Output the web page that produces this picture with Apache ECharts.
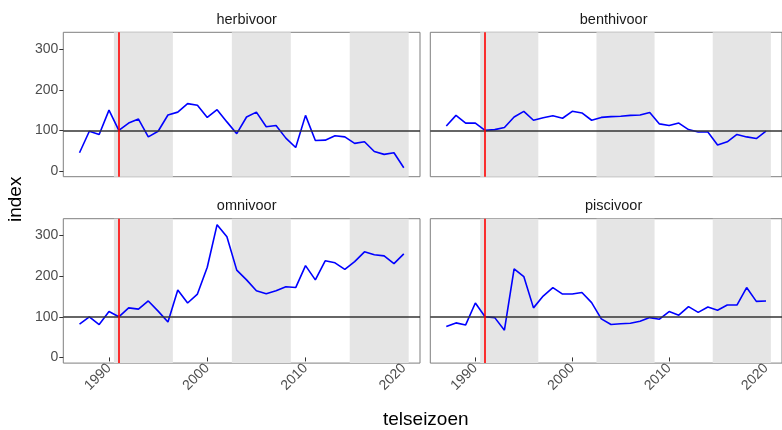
<!DOCTYPE html>
<html>
<head>
<meta charset="utf-8">
<script src="https://cdn.jsdelivr.net/npm/echarts@6/dist/echarts.min.js"></script>
<style>html,body{margin:0;padding:0;background:#fff}#c{width:782px;height:430px}</style>
</head>
<body>
<div id="c"></div>
<script>
const years = [1987,1988,1989,1990,1991,1992,1993,1994,1995,1996,1997,1998,1999,2000,2001,2002,2003,2004,2005,2006,2007,2008,2009,2010,2011,2012,2013,2014,2015,2016,2017,2018,2019,2020];
const herbivoor  = [45,98,90,150,100,118,128,84,98,138,145,166,162,132,151,121,92,133,145,109,112,81,58,137,75,76,87,84,68,72,48,41,45,8];
const benthivoor = [111,137,118,118,100,102,107,133,147,125,131,136,130,147,143,125,132,134,135,137,138,144,116,112,118,102,96,96,64,72,90,84,80,98];
const omnivoor   = [82,100,81,113,100,122,119,139,114,87,166,134,156,222,327,297,215,191,164,157,164,174,172,226,191,238,233,217,236,260,253,250,231,255];
const piscivoor  = [76,85,80,134,100,98,67,218,199,122,151,172,156,156,160,135,95,81,83,84,89,98,94,113,104,125,111,124,116,129,129,172,138,139];
const panelNames = ["herbivoor","benthivoor","omnivoor","piscivoor"];
const bands = [[1990.5,1996.5],[2002.5,2008.5],[2014.5,2020.5]];
const refYear = 1991;
const baseline = 100;
const xTicks = [1990,2000,2010,2020];
const yTicks = [0,100,200,300];

const seriesData = [herbivoor, benthivoor, omnivoor, piscivoor];
const FONT = "Liberation Sans, Arial, sans-serif";
const L = [63.3, 430.3], T = [32.3, 218.7], W = 356.7, H = 144.4;

const grids = [], xAxes = [], yAxes = [], series = [], titles = [];
for (let i = 0; i < 4; i++) {
  const col = i % 2, row = Math.floor(i / 2);
  grids.push({left: L[col], top: T[row], width: W, height: H, show: true,
    backgroundColor: '#fff', borderColor: '#7f7f7f', borderWidth: 1, containLabel: false});
  xAxes.push({type: 'value', gridIndex: i, min: 1985.35, max: 2021.65,
    axisLine: {show: false}, splitLine: {show: false},
    axisTick: {show: row === 1, length: 4, lineStyle: {color: '#333', width: 1}, customValues: xTicks},
    axisLabel: {show: row === 1, rotate: 45, color: '#4d4d4d', fontSize: 14, fontFamily: FONT, margin: 3,
      customValues: xTicks, formatter: v => String(v)}});
  yAxes.push({type: 'value', gridIndex: i, min: -14, max: 341.6,
    axisLine: {show: false}, splitLine: {show: false},
    axisTick: {show: col === 0, length: 4, lineStyle: {color: '#333', width: 1}, customValues: yTicks},
    axisLabel: {show: col === 0, color: '#4d4d4d', fontSize: 14, fontFamily: FONT, margin: 5,
      customValues: yTicks, formatter: v => String(v)}});
  series.push({type: 'line', xAxisIndex: i, yAxisIndex: i, data: [], silent: true, z: 1,
    markArea: {silent: true, itemStyle: {color: '#e5e5e5'},
      data: bands.map(b => [{xAxis: b[0]}, {xAxis: b[1]}])}});
  series.push({type: 'line', xAxisIndex: i, yAxisIndex: i, data: [], silent: true, z: 2,
    markLine: {silent: true, symbol: 'none', label: {show: false}, animation: false,
      data: [
        {yAxis: baseline, lineStyle: {color: '#333', width: 1.6, type: 'solid'}},
        {xAxis: refYear, lineStyle: {color: '#ff0000', width: 1.6, type: 'solid'}}
      ]}});
  series.push({type: 'line', xAxisIndex: i, yAxisIndex: i, z: 3, showSymbol: false, symbol: 'none',
    lineStyle: {color: '#0000ff', width: 1.6}, animation: false,
    data: years.map((y, k) => [y, seriesData[i][k]])});
  titles.push({text: panelNames[i], left: L[col] + W / 2, top: row === 0 ? 7 : 193, textAlign: 'center',
    textStyle: {fontSize: 14.5, fontWeight: 'normal', color: '#1a1a1a', fontFamily: FONT}});
}

const chart = echarts.init(document.getElementById('c'), null, {renderer: 'canvas'});
chart.setOption({
  animation: false,
  backgroundColor: '#fff',
  title: titles,
  grid: grids, xAxis: xAxes, yAxis: yAxes, series: series,
  graphic: [
    {type: 'text', left: 383, top: 410, style: {text: 'telseizoen', fontSize: 19, fontFamily: FONT, fill: '#000'}},
    {type: 'text', x: 6, y: 222, rotation: Math.PI / 2,
      style: {text: 'index', fontSize: 19, fontFamily: FONT, fill: '#000'}}
  ]
});
</script>
</body>
</html>
